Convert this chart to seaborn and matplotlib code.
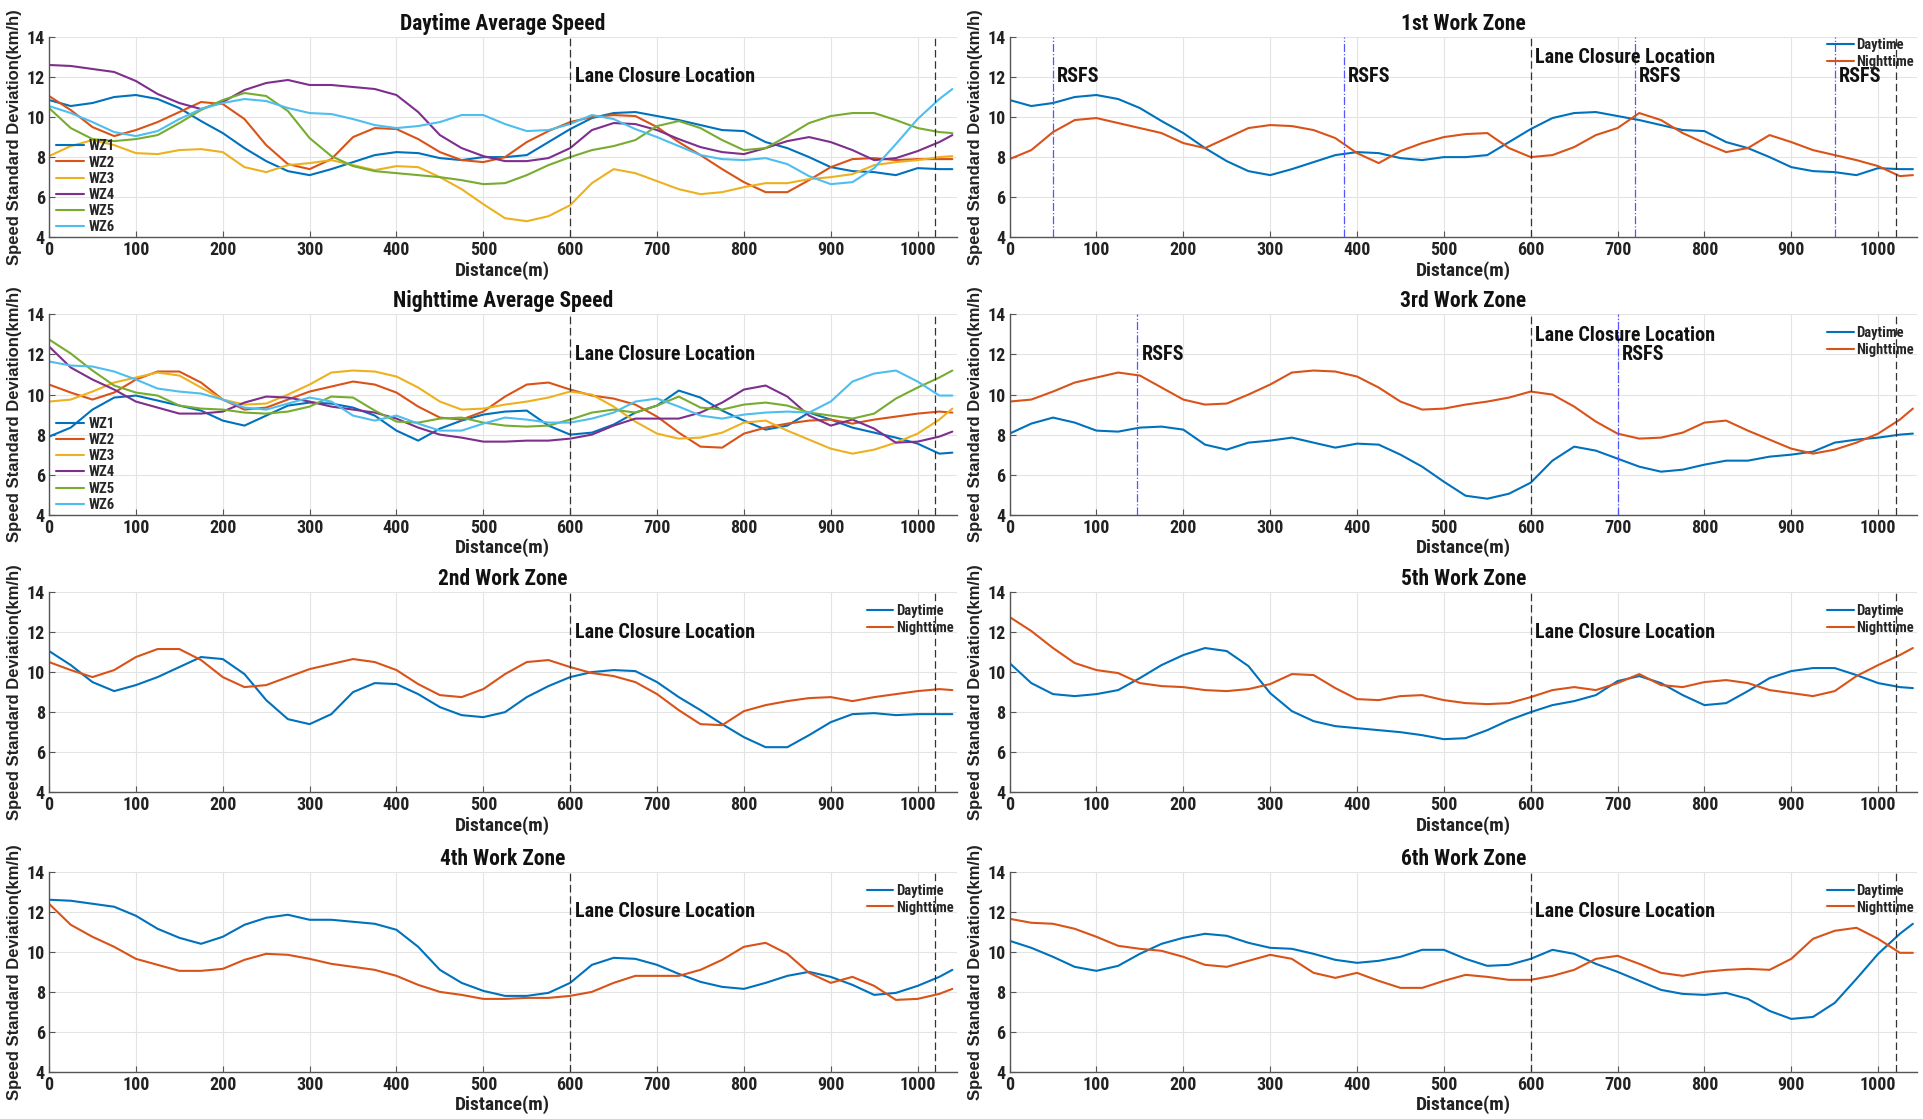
import matplotlib
matplotlib.use("Agg")
import matplotlib.pyplot as plt
import numpy as np
import pandas as pd
import seaborn as sns

# ---------------- data ----------------
distance = list(range(0, 1026, 25)) + [1040]

day_wz1 = [10.85, 10.55, 10.7, 11.0, 11.1, 10.9, 10.45, 9.8, 9.2, 8.45,
           7.8, 7.3, 7.1, 7.4, 7.75, 8.1, 8.25, 8.2, 7.95, 7.85,
           8.0, 8.0, 8.1, 8.75, 9.4, 9.95, 10.2, 10.25, 10.05, 9.85,
           9.6, 9.35, 9.3, 8.75, 8.45, 8.0, 7.5, 7.3, 7.25, 7.1,
           7.45, 7.4, 7.4]
night_wz1 = [7.9, 8.35, 9.25, 9.85, 9.95, 9.7, 9.45, 9.2, 8.7, 8.45,
             8.95, 9.45, 9.6, 9.55, 9.35, 8.95, 8.2, 7.7, 8.3, 8.7,
             9.0, 9.15, 9.2, 8.45, 8.0, 8.1, 8.5, 9.1, 9.45, 10.2,
             9.85, 9.2, 8.7, 8.25, 8.45, 9.1, 8.75, 8.35, 8.1, 7.85,
             7.55, 7.05, 7.1]
day_wz2 = [11.05, 10.35, 9.5, 9.05, 9.35, 9.75, 10.25, 10.75, 10.65, 9.9,
           8.6, 7.65, 7.4, 7.9, 9.0, 9.45, 9.4, 8.9, 8.25, 7.85,
           7.75, 8.0, 8.75, 9.3, 9.75, 10.0, 10.1, 10.05, 9.5, 8.75,
           8.1, 7.4, 6.75, 6.25, 6.25, 6.85, 7.5, 7.9, 7.95, 7.85,
           7.9, 7.9, 7.9]
night_wz2 = [10.5, 10.1, 9.75, 10.1, 10.75, 11.15, 11.15, 10.6, 9.75, 9.25,
             9.35, 9.75, 10.15, 10.4, 10.65, 10.5, 10.1, 9.4, 8.85, 8.75,
             9.15, 9.9, 10.5, 10.6, 10.25, 9.95, 9.8, 9.5, 8.9, 8.1,
             7.4, 7.35, 8.05, 8.35, 8.55, 8.7, 8.75, 8.55, 8.75, 8.9,
             9.05, 9.15, 9.1]
day_wz3 = [8.05, 8.55, 8.85, 8.6, 8.2, 8.15, 8.35, 8.4, 8.25, 7.5,
           7.25, 7.6, 7.7, 7.85, 7.6, 7.35, 7.55, 7.5, 7.0, 6.4,
           5.65, 4.95, 4.8, 5.05, 5.6, 6.7, 7.4, 7.2, 6.8, 6.4,
           6.15, 6.25, 6.5, 6.7, 6.7, 6.9, 7.0, 7.15, 7.6, 7.75,
           7.85, 8.0, 8.05]
night_wz3 = [9.65, 9.75, 10.15, 10.6, 10.85, 11.1, 10.95, 10.35, 9.75, 9.5,
             9.55, 10.0, 10.5, 11.1, 11.2, 11.15, 10.9, 10.35, 9.65, 9.25,
             9.3, 9.5, 9.65, 9.85, 10.15, 10.0, 9.4, 8.65, 8.05, 7.8,
             7.85, 8.1, 8.6, 8.7, 8.2, 7.75, 7.3, 7.05, 7.25, 7.6,
             8.05, 8.75, 9.3]
day_wz4 = [12.6, 12.55, 12.4, 12.25, 11.8, 11.15, 10.7, 10.4, 10.75, 11.35,
           11.7, 11.85, 11.6, 11.6, 11.5, 11.4, 11.1, 10.25, 9.1, 8.45,
           8.05, 7.8, 7.8, 7.95, 8.45, 9.35, 9.7, 9.65, 9.35, 8.9,
           8.5, 8.25, 8.15, 8.45, 8.8, 9.0, 8.75, 8.35, 7.85, 7.95,
           8.3, 8.75, 9.1]
night_wz4 = [12.4, 11.35, 10.75, 10.25, 9.65, 9.35, 9.05, 9.05, 9.15, 9.6,
             9.9, 9.85, 9.65, 9.4, 9.25, 9.1, 8.8, 8.35, 8.0, 7.85,
             7.65, 7.65, 7.7, 7.7, 7.8, 8.0, 8.45, 8.8, 8.8, 8.8,
             9.1, 9.6, 10.25, 10.45, 9.9, 8.95, 8.45, 8.75, 8.3, 7.6,
             7.65, 7.9, 8.15]
day_wz5 = [10.45, 9.45, 8.9, 8.8, 8.9, 9.1, 9.7, 10.35, 10.85, 11.2,
           11.05, 10.3, 8.95, 8.05, 7.55, 7.3, 7.2, 7.1, 7.0, 6.85,
           6.65, 6.7, 7.1, 7.6, 8.0, 8.35, 8.55, 8.85, 9.55, 9.8,
           9.45, 8.85, 8.35, 8.45, 9.05, 9.7, 10.05, 10.2, 10.2, 9.85,
           9.45, 9.25, 9.2]
night_wz5 = [12.75, 12.05, 11.2, 10.45, 10.1, 9.95, 9.45, 9.3, 9.25, 9.1,
             9.05, 9.15, 9.4, 9.9, 9.85, 9.2, 8.65, 8.6, 8.8, 8.85,
             8.6, 8.45, 8.4, 8.45, 8.75, 9.1, 9.25, 9.1, 9.45, 9.9,
             9.35, 9.25, 9.5, 9.6, 9.45, 9.1, 8.95, 8.8, 9.05, 9.8,
             10.35, 10.85, 11.2]
day_wz6 = [10.55, 10.2, 9.75, 9.25, 9.05, 9.3, 9.9, 10.4, 10.7, 10.9,
           10.8, 10.45, 10.2, 10.15, 9.9, 9.6, 9.45, 9.55, 9.75, 10.1,
           10.1, 9.65, 9.3, 9.35, 9.65, 10.1, 9.9, 9.4, 9.0, 8.55,
           8.1, 7.9, 7.85, 7.95, 7.65, 7.05, 6.65, 6.75, 7.45, 8.65,
           9.9, 10.9, 11.4]
night_wz6 = [11.65, 11.45, 11.4, 11.15, 10.75, 10.3, 10.15, 10.05, 9.75, 9.35,
             9.25, 9.55, 9.85, 9.65, 8.95, 8.7, 8.95, 8.55, 8.2, 8.2,
             8.55, 8.85, 8.75, 8.6, 8.6, 8.8, 9.1, 9.65, 9.8, 9.4,
             8.95, 8.8, 9.0, 9.1, 9.15, 9.1, 9.65, 10.65, 11.05, 11.2,
             10.65, 9.95, 9.95]

zone_labels = ["WZ1", "WZ2", "WZ3", "WZ4", "WZ5", "WZ6"]
day_all = [day_wz1, day_wz2, day_wz3, day_wz4, day_wz5, day_wz6]
night_all = [night_wz1, night_wz2, night_wz3, night_wz4, night_wz5, night_wz6]

lane_closure = [600, 1020]
rsfs_wz1 = [50, 385, 720, 950]
rsfs_wz3 = [147, 700]

x_ticks = list(range(0, 1001, 100))
y_ticks = [4, 6, 8, 10, 12, 14]

# ---------------- style ----------------
sns.set_theme(style="whitegrid")
NARROW = ["Liberation Sans Narrow", "DejaVu Sans Condensed", "Roboto Condensed",
          "Liberation Sans", "DejaVu Sans"]
plt.rcParams["font.family"] = NARROW
plt.rcParams["font.weight"] = "bold"
plt.rcParams["axes.titleweight"] = "bold"
plt.rcParams["axes.labelweight"] = "bold"

mat_colors = ["#0072BD", "#D95319", "#EDB120", "#7E2F8E", "#77AC30", "#4DBEEE"]
day_color, night_color = "#0072BD", "#D95319"

fig = plt.figure(figsize=(19.23, 11.19), dpi=100)
fig.patch.set_facecolor("white")

col_left = [0.0255, 0.525]
col_w = 0.472
row_bottom = [0.788, 0.540, 0.292, 0.042]
row_h = 0.179


def make_ax(r, c):
    return fig.add_axes([col_left[c], row_bottom[r], col_w, row_h])


def style_ax(ax, title):
    ax.set_facecolor("white")
    ax.set_xlim(0, 1045)
    ax.set_ylim(4, 14)
    ax.set_xticks(x_ticks)
    ax.set_yticks(y_ticks)
    ax.grid(True, color="#e4e4e4", linewidth=0.8)
    for s in ["top", "right"]:
        ax.spines[s].set_visible(False)
    for s in ["left", "bottom"]:
        ax.spines[s].set_visible(True)
        ax.spines[s].set_color("#555555")
        ax.spines[s].set_linewidth(1.0)
    ax.tick_params(direction="in", length=4, width=0.8, color="#555555",
                   labelsize=13, pad=3, labelcolor="#222222",
                   bottom=True, left=True)
    ax.set_title(title, fontsize=15.5, fontweight="bold", pad=5, color="#111111")
    ax.set_xlabel("Distance(m)", fontsize=14, labelpad=1, color="#222222")
    ax.set_ylabel("Speed Standard Deviation(km/h)",
                  fontfamily=["Liberation Sans", "DejaVu Sans"],
                  fontsize=12, fontweight="bold", labelpad=3, color="#222222")


def draw_lines(ax, series, labels, colors):
    df = pd.concat([pd.DataFrame({"Distance": distance, "Std": s, "Series": l})
                    for s, l in zip(series, labels)], ignore_index=True)
    sns.lineplot(data=df, x="Distance", y="Std", hue="Series", hue_order=labels,
                 palette=dict(zip(labels, colors)), linewidth=1.5, ax=ax,
                 legend=False, errorbar=None)
    lines = ax.get_lines()[:len(labels)]
    for ln in lines:
        ln.set_solid_joinstyle("round")
        ln.set_solid_capstyle("round")
    return lines


def draw_markers(ax, lane_y=12.0, rsfs=None, rsfs_y=12.0):
    for xv in lane_closure:
        ax.axvline(xv, color="#333333", linewidth=0.9, linestyle=(0, (6, 3)))
    ax.text(lane_closure[0] + 5, lane_y, "Lane Closure Location", fontsize=14.5,
            fontweight="bold", ha="left", va="center", color="#111111")
    if rsfs:
        for xv in rsfs:
            ax.axvline(xv, color="#5555ff", linewidth=0.9, linestyle="-.")
            ax.text(xv + 5, rsfs_y, "RSFS", fontsize=14.5, fontweight="bold",
                    ha="left", va="center", color="#111111")


def zone_panel(ax, title, d, n, top=0.955, lane_y=12.0, rsfs=None):
    style_ax(ax, title)
    handles = draw_lines(ax, [d, n], ["Daytime", "Nighttime"], [day_color, night_color])
    draw_markers(ax, lane_y=lane_y, rsfs=rsfs)
    ax.legend(handles, ["Daytime", "Nighttime"], loc="upper right",
              bbox_to_anchor=(1.0, top), frameon=False, fontsize=10.5,
              handlelength=1.8, handletextpad=0.2, labelspacing=0.2,
              borderaxespad=0.1, borderpad=0.1)


def avg_panel(ax, title, series):
    style_ax(ax, title)
    handles = draw_lines(ax, series, zone_labels, mat_colors)
    draw_markers(ax, lane_y=12.0)
    ax.legend(handles, zone_labels, loc="lower left", bbox_to_anchor=(0.005, 0.0),
              frameon=False, fontsize=10.5, handlelength=1.9, handletextpad=0.3,
              labelspacing=0.15, borderaxespad=0.1, borderpad=0.1)


avg_panel(make_ax(0, 0), "Daytime Average Speed", day_all)
avg_panel(make_ax(1, 0), "Nighttime Average Speed", night_all)
zone_panel(make_ax(2, 0), "2nd Work Zone", day_wz2, night_wz2)
zone_panel(make_ax(3, 0), "4th Work Zone", day_wz4, night_wz4)
zone_panel(make_ax(0, 1), "1st Work Zone", day_wz1, night_wz1, top=1.01,
           lane_y=12.95, rsfs=rsfs_wz1)
zone_panel(make_ax(1, 1), "3rd Work Zone", day_wz3, night_wz3, lane_y=12.95,
           rsfs=rsfs_wz3)
zone_panel(make_ax(2, 1), "5th Work Zone", day_wz5, night_wz5)
zone_panel(make_ax(3, 1), "6th Work Zone", day_wz6, night_wz6)

fig.savefig("out.png", dpi=100, facecolor="white")
